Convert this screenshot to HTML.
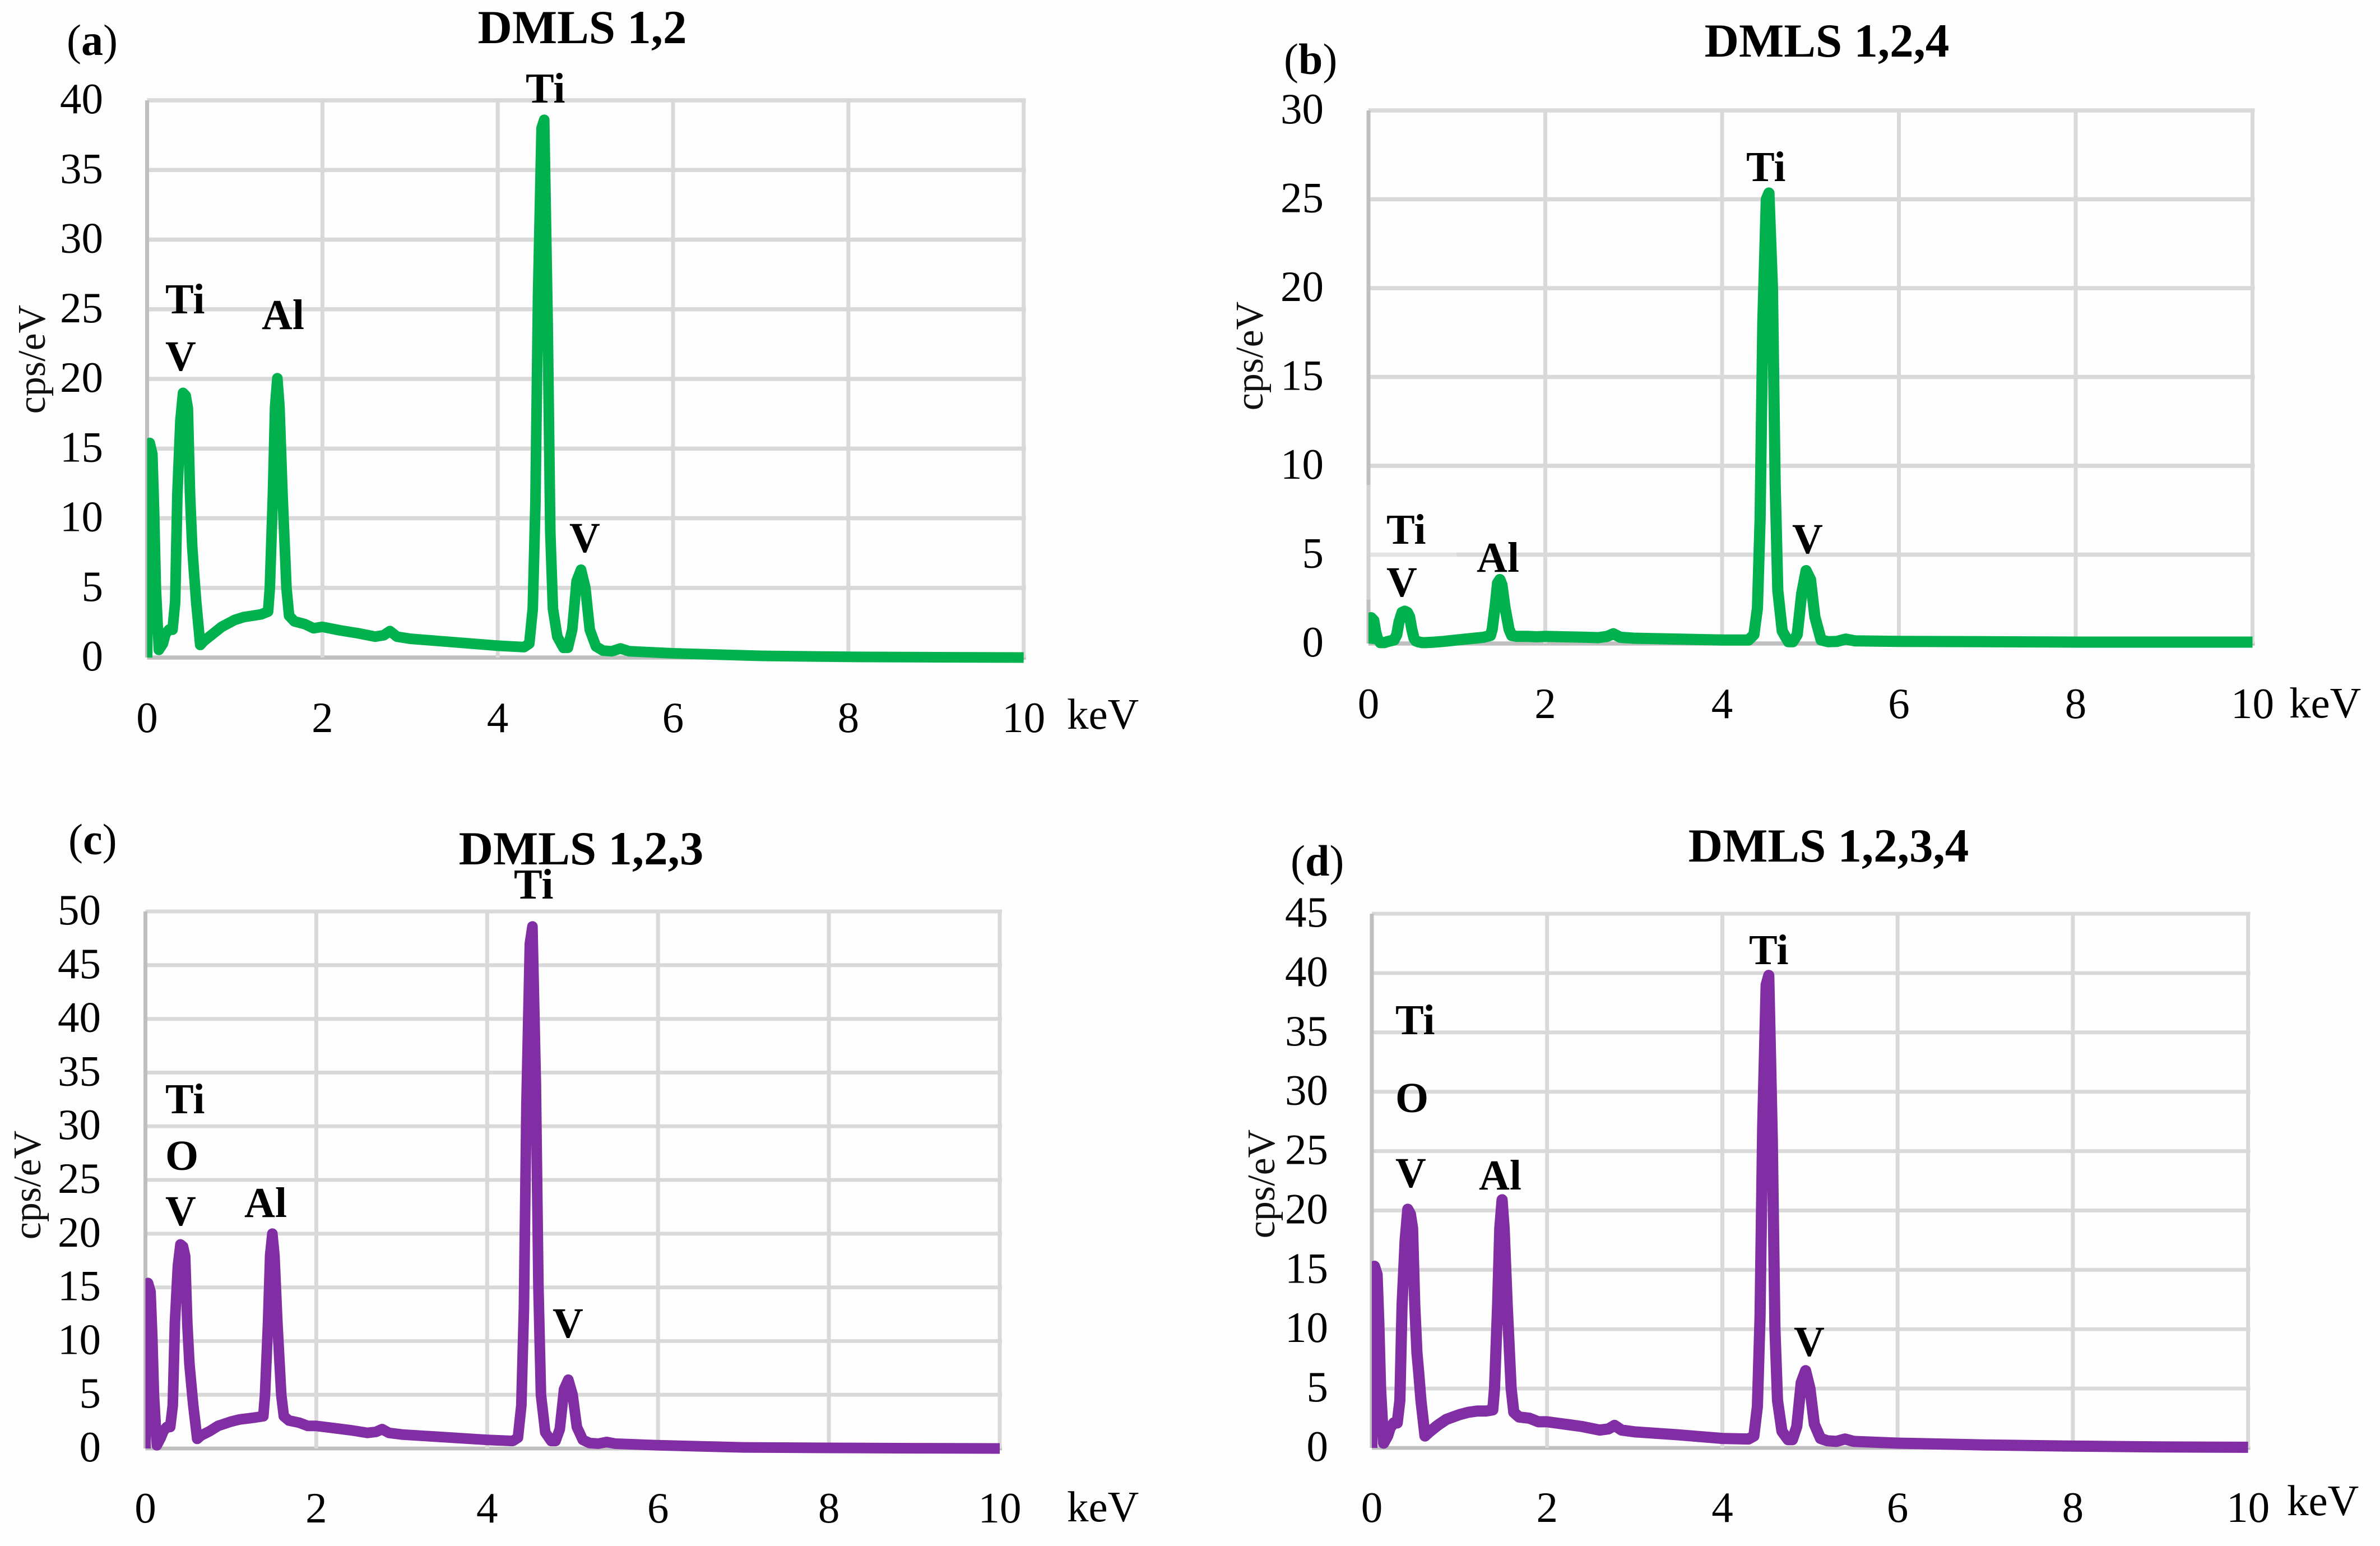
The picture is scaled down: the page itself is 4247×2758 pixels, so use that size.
<!DOCTYPE html>
<html lang="en">
<head>
<meta charset="utf-8">
<title>EDS spectra of DMLS samples</title>
<style>
html,body{margin:0;padding:0;background:#fefefe;}
svg{display:block;}
text{font-family:"Liberation Serif",serif;fill:#000;}
.title{font-size:85px;font-weight:bold;text-anchor:middle;}
.peak{font-size:76px;font-weight:bold;}
.letter{font-size:78px;}
.letter tspan{font-weight:bold;}
.unit{font-size:77px;}
.ylab{font-size:70px;text-anchor:middle;fill:#111;}
.tick{font-size:77px;}
</style>
</head>
<body>
<svg id="fig" xmlns="http://www.w3.org/2000/svg" width="4247" height="2758" viewBox="0 0 4247 2758">
  <rect x="0" y="0" width="4247" height="2758" fill="#fefefe"/>
  <g id="panel-a"></g>
  <g id="panel-b"></g>
  <g id="panel-c"></g>
  <g id="panel-d"></g>

  <rect x="2436" y="865" width="163" height="205" fill="#ffffff" opacity="0.3"/>

  <text class="letter" x="119" y="98">(<tspan>a</tspan>)</text>
  <text class="title" x="1039" y="77">DMLS 1,2</text>
  <text class="ylab" transform="translate(80,641) rotate(-90)">cps/eV</text>
  <text class="unit" x="1904" y="1300">keV</text>
  <text class="peak" x="938" y="183">Ti</text>
  <text class="peak" x="295" y="559">Ti</text>
  <text class="peak" x="295" y="661">V</text>
  <text class="peak" x="467" y="587">Al</text>
  <text class="peak" x="1016" y="985">V</text>

  <text class="letter" x="2291" y="132">(<tspan>b</tspan>)</text>
  <text class="title" x="3260" y="101">DMLS 1,2,4</text>
  <text class="ylab" transform="translate(2253,635) rotate(-90)">cps/eV</text>
  <text class="unit" x="4085" y="1280">keV</text>
  <text class="peak" x="3116" y="323">Ti</text>
  <text class="peak" x="2474" y="970">Ti</text>
  <text class="peak" x="2474" y="1064">V</text>
  <text class="peak" x="2635" y="1020">Al</text>
  <text class="peak" x="3198" y="987">V</text>

  <text class="letter" x="122" y="1524">(<tspan>c</tspan>)</text>
  <text class="title" x="1037" y="1542">DMLS 1,2,3</text>
  <text class="ylab" transform="translate(72,2114) rotate(-90)">cps/eV</text>
  <text class="unit" x="1904" y="2714">keV</text>
  <text class="peak" x="917" y="1603">Ti</text>
  <text class="peak" x="295" y="1986">Ti</text>
  <text class="peak" x="295" y="2087">O</text>
  <text class="peak" x="295" y="2186">V</text>
  <text class="peak" x="436" y="2171">Al</text>
  <text class="peak" x="986" y="2386">V</text>

  <text class="letter" x="2303" y="1562">(<tspan>d</tspan>)</text>
  <text class="title" x="3263" y="1537">DMLS 1,2,3,4</text>
  <text class="ylab" transform="translate(2274,2112) rotate(-90)">cps/eV</text>
  <text class="unit" x="4081" y="2703">keV</text>
  <text class="peak" x="3121" y="1720">Ti</text>
  <text class="peak" x="2490" y="1845">Ti</text>
  <text class="peak" x="2490" y="1984">O</text>
  <text class="peak" x="2490" y="2118">V</text>
  <text class="peak" x="2639" y="2122">Al</text>
  <text class="peak" x="3201" y="2419">V</text>
</svg>
<script>
// Shared energy channel values (keV)
const energies = [
  0,.03,.06,.08,.10,.134,.18,.21,.25,.29,
  .32,.345,.38,.41,.44,.465,.49,.515,.535,.56,
  .606,.65,.75,.85,1.0,1.1,1.2,1.3,1.38,1.40,
  1.435,1.46,1.486,1.51,1.545,1.59,1.62,1.68,1.8,1.9,
  2.0,2.2,2.4,2.6,2.7,2.77,2.85,3,3.5,4,
  4.3,4.36,4.4,4.43,4.46,4.5,4.53,4.57,4.6,4.63,
  4.68,4.75,4.8,4.85,4.9,4.95,5.0,5.05,5.12,5.2,
  5.3,5.4,5.5,6,7,8,9,10
];
// Counts (cps/eV) per panel
const countsA = [
  0,15.4,14.6,10.5,5,.55,1,1.7,2,2,
  4,11.7,17,19,18.8,17.9,11.7,7.9,6.1,4,
  .9,1.2,1.7,2.2,2.7,2.9,3.0,3.1,3.3,5,
  11.7,18,20.05,18,11.7,5,3,2.6,2.4,2.1,
  2.2,1.95,1.75,1.5,1.6,1.9,1.5,1.35,1.1,.85,
  .75,1,3.5,11,26,38,38.6,24,9,3.5,
  1.5,.7,.7,2,5.5,6.3,5,2,.8,.5,
  .45,.65,.45,.3,.12,.05,.02,0
];
const countsB = [
  0,1.45,1.3,.7,.3,.05,.05,.1,.15,.2,
  .5,1.2,1.75,1.82,1.75,1.5,.8,.3,.15,.1,
  .05,.05,.08,.12,.2,.25,.3,.35,.45,.8,
  2.2,3.4,3.6,3.3,2,.8,.45,.4,.4,.38,
  .4,.38,.36,.33,.4,.55,.35,.3,.25,.2,
  .2,.5,2,7,18,25,25.35,20,9,3,
  .7,.1,.1,.5,2.8,4.1,3.6,1.5,.2,.1,
  .12,.25,.15,.12,.1,.08,.08,.08
];
const countsC = [
  0,15.4,14.6,10.5,5,.3,1,1.6,2,2,
  4,11.7,17,19,18.8,17.9,11.7,7.9,6.1,4,
  .9,1.2,1.6,2.1,2.5,2.7,2.8,2.9,3.0,5,
  11.7,18,20,18,11.7,5,3,2.6,2.4,2.1,
  2.1,1.9,1.7,1.45,1.55,1.8,1.45,1.3,1.05,.8,
  .7,1,4,13,32,47,48.6,34,15,5,
  1.5,.7,.7,1.8,5.5,6.4,5,2,.8,.5,
  .45,.6,.45,.3,.1,.05,.02,0
];
const countsD = [
  0,15.3,14.6,10.5,5,.4,1,1.7,2.1,2.1,
  4,12,17.5,20.1,19.7,18.5,12,8,6.3,4,
  1,1.3,1.9,2.4,2.8,3,3.1,3.1,3.2,5,
  12,18.5,20.9,18.5,12,5,3,2.6,2.5,2.2,
  2.2,2,1.8,1.5,1.6,1.9,1.5,1.35,1.1,.8,
  .75,1,3.5,11,27,39,39.8,26,10,4,
  1.4,.7,.7,1.8,5.5,6.5,5,2,.8,.6,
  .55,.75,.55,.4,.25,.15,.08,.05
];
// Tick labels
const xTicks = [0,2,4,6,8,10];
const yTicksA = [0,5,10,15,20,25,30,35,40];
const yTicksB = [0,5,10,15,20,25,30];
const yTicksC = [0,5,10,15,20,25,30,35,40,45,50];
const yTicksD = [0,5,10,15,20,25,30,35,40,45];

const SVGNS = 'http://www.w3.org/2000/svg';
function make(tag, attrs, parent) {
  const el = document.createElementNS(SVGNS, tag);
  for (const k in attrs) el.setAttribute(k, attrs[k]);
  parent.appendChild(el);
  return el;
}

function drawPanel(id, counts, yTicks, box) {
  const g = document.getElementById('panel-' + id);
  const xMax = xTicks[xTicks.length - 1];
  const yMax = yTicks[yTicks.length - 1];
  const xScale = v => box.left + (v / xMax) * (box.right - box.left);
  const yScale = v => box.bottom - (v / yMax) * (box.bottom - box.top);

  yTicks.forEach(t => {
    const line = make('line', {x1: box.left, x2: box.right + 4, y1: yScale(t), y2: yScale(t),
      stroke: t === 0 ? '#bfbfbf' : '#d9d9d9', 'stroke-width': box.grid}, g);
    
    
    const lab = make('text', {class: 'tick', x: box.yLabelRight, y: yScale(t) + 23, 'text-anchor': 'end'}, g);
    
    
    lab.textContent = t;
  });
  xTicks.forEach(t => {
    const line = make('line', {x1: xScale(t), x2: xScale(t), y1: box.top, y2: box.bottom,
      stroke: t === 0 ? '#bfbfbf' : '#d9d9d9', 'stroke-width': 7}, g);
    
    
    const lab = make('text', {class: 'tick', x: xScale(t), y: box.xLabelBase, 'text-anchor': 'middle'}, g);
    
    
    lab.textContent = t;
  });

  const clip = make('clipPath', {id: 'clip-' + id}, g);
  make('rect', {x: box.left, y: box.top - 40, width: box.right - box.left + 3, height: box.bottom - box.top + 70}, clip);

  const pts = energies.map((e, i) => xScale(e).toFixed(1) + ',' + yScale(counts[i]).toFixed(1)).join(' ');
  const spectrum = make('polyline', {points: pts, fill: 'none', stroke: box.color, 'stroke-width': box.stroke,
    'stroke-linejoin': 'round', 'stroke-linecap': 'butt', 'clip-path': 'url(#clip-' + id + ')'}, g);
  
  
}

drawPanel('a', countsA, yTicksA, {left: 262.5, right: 1826.7, top: 179, bottom: 1173, yLabelRight: 184, xLabelBase: 1306, grid: 7.5, stroke: 19, color: '#00b14e'});
drawPanel('b', countsB, yTicksB, {left: 2442, right: 4019.5, top: 197, bottom: 1148, yLabelRight: 2362, xLabelBase: 1281, grid: 7.5, stroke: 20, color: '#00b14e'});
drawPanel('c', countsC, yTicksC, {left: 259.5, right: 1784, top: 1626, bottom: 2584, yLabelRight: 180, xLabelBase: 2716, grid: 6.8, stroke: 19, color: '#812da3'});
drawPanel('d', countsD, yTicksD, {left: 2448, right: 4011.6, top: 1630, bottom: 2583, yLabelRight: 2370, xLabelBase: 2715, grid: 6.8, stroke: 20, color: '#812da3'});
</script>
</body>
</html>
